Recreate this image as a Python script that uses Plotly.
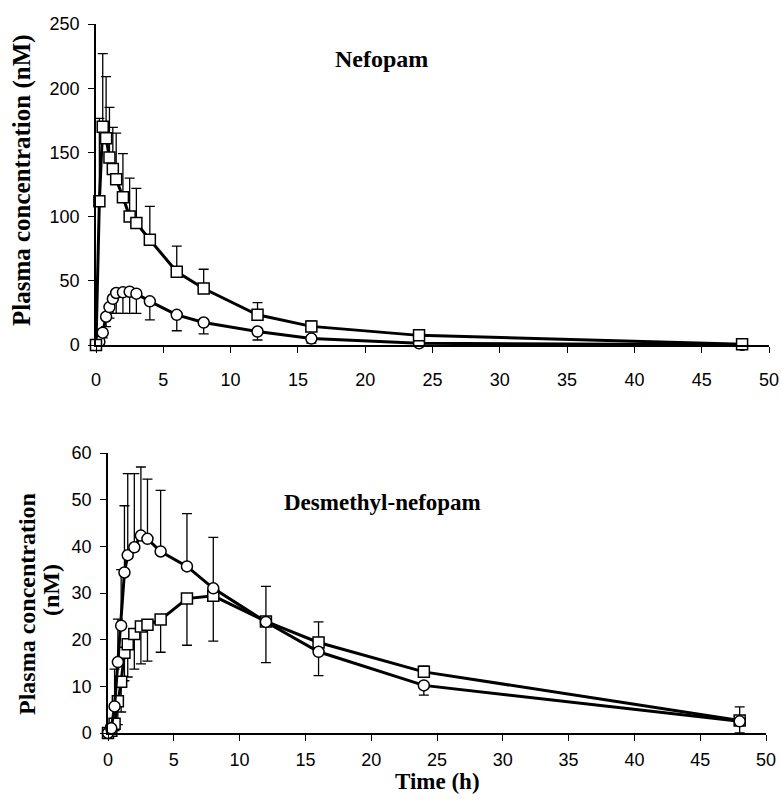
import plotly.graph_objects as go

W, H = 781, 801

times = [0, 0.25, 0.5, 0.75, 1, 1.25, 1.5, 2, 2.5, 3, 4, 6, 8, 12, 16, 24, 48]

# Nefopam (top panel)
nef_sq = [0, 112, 170, 161, 146, 137, 129, 115, 100, 95, 82, 57, 44, 23.5, 14.5, 7.5, 0.6]
nef_sq_up = [0, 64.5, 57, 48, 39, 32.5, 36, 34, 30, 27, 26, 20, 15, 9.5, 4.3, 2.7, 0.8]
nef_ci = [0, 2.6, 9.6, 22, 29.5, 36, 40.5, 41, 41.5, 40, 34, 23.5, 17.5, 10.5, 5, 1.3, 0.2]
nef_ci_dn = [0, 2, 4, 7.7, 8.5, 11.3, 15.8, 16.3, 16.8, 15.3, 14.5, 12.4, 8.9, 6.6, 3.5, 1, 0]

# Desmethyl-nefopam (bottom panel)
des_sq = [0, 0.5, 2, 6.8, 11, 17.2, 19, 21.2, 22.8, 23.2, 24.3, 28.8, 29.4, 23.9, 19.4, 13.1, 2.7]
des_sq_up = [0, 0, 0, 0, 0, 0, 0, 0, 0, 0, 0, 0, 0, 0, 4.4, 1.2, 2.9]
des_sq_dn = [0, 0.5, 1.5, 5, 6.5, 6, 7, 7.5, 8, 7.8, 7, 10, 9.7, 8.8, 0, 0, 2.7]
des_ci = [0, 1, 5.7, 15.2, 23, 34.4, 38.1, 39.8, 42.3, 41.6, 38.9, 35.7, 31, 23.8, 17.4, 10.2, 2.5]
des_ci_up = [0, 0, 8, 9.2, 12, 14.3, 17.5, 15.8, 14.7, 12.8, 13.1, 11.3, 10.9, 7.6, 0, 0, 0]
des_ci_dn = [0, 0, 0, 0, 0, 0, 0, 0, 0, 0, 0, 0, 0, 0, 5.1, 2.1, 0]

x_ticks = [0, 5, 10, 15, 20, 25, 30, 35, 40, 45, 50]
y1_ticks = [0, 50, 100, 150, 200, 250]
y2_ticks = [0, 10, 20, 30, 40, 50, 60]


def fx(px):
    return px / W


def fy(py):
    return 1 - py / H


LINE = dict(color="black", width=3)
ERR = dict(color="black", thickness=1.3, width=5)
SQ = dict(symbol="square", size=11, color="white", line=dict(color="black", width=1.5))
CI = dict(symbol="circle", size=11, color="white", line=dict(color="black", width=1.5))


def err(up, dn):
    return dict(type="data", symmetric=False, array=up, arrayminus=dn, visible=True, **ERR)


fig = go.Figure()
zeros = [0] * len(times)
fig.add_trace(go.Scatter(x=times, y=nef_ci, mode="lines+markers", line=LINE, marker=CI,
                         error_y=err(zeros, nef_ci_dn), xaxis="x", yaxis="y", cliponaxis=False))
fig.add_trace(go.Scatter(x=times, y=nef_sq, mode="lines+markers", line=LINE, marker=SQ,
                         error_y=err(nef_sq_up, zeros), xaxis="x", yaxis="y", cliponaxis=False))
fig.add_trace(go.Scatter(x=times, y=des_sq, mode="lines+markers", line=LINE, marker=SQ,
                         error_y=err(des_sq_up, des_sq_dn), xaxis="x2", yaxis="y2", cliponaxis=False))
fig.add_trace(go.Scatter(x=times, y=des_ci, mode="lines+markers", line=LINE, marker=CI,
                         error_y=err(des_ci_up, des_ci_dn), xaxis="x2", yaxis="y2", cliponaxis=False))

TICKF = dict(family="Liberation Sans, Arial, sans-serif", size=18, color="black")
ax_common = dict(showline=True, linecolor="black", linewidth=1.5, ticks="outside", ticklen=6,
                 tickcolor="black", tickwidth=1.2, showgrid=False, zeroline=False,
                 tickfont=TICKF, fixedrange=True, ticklabeloverflow="allow")

fig.update_layout(
    width=W, height=H, margin=dict(l=0, r=0, t=0, b=0, autoexpand=False),
    paper_bgcolor="white", plot_bgcolor="white", showlegend=False,
    xaxis=dict(domain=[fx(96), fx(769)], range=[0, 50], tickvals=x_ticks, anchor="y",
               ticklabelstandoff=12, **ax_common),
    yaxis=dict(domain=[fy(345), fy(24)], range=[0, 250], tickvals=y1_ticks, anchor="x",
               ticklabelstandoff=5, **ax_common),
    xaxis2=dict(domain=[fx(108), fx(766)], range=[0, 50], tickvals=x_ticks, anchor="y2",
                ticklabelstandoff=4, **ax_common),
    yaxis2=dict(domain=[fy(733), fy(453)], range=[0, 60], tickvals=y2_ticks, anchor="x2",
                ticklabelstandoff=5, **ax_common),
)

TF = dict(family="Liberation Serif, Times New Roman, serif", size=24, color="black")


def ann(text, px, py, angle=0, xanchor="center", size=24):
    f = dict(TF)
    f["size"] = size
    fig.add_annotation(text=text, x=fx(px), y=fy(py), xref="paper", yref="paper",
                       showarrow=False, textangle=angle, xanchor=xanchor, yanchor="middle", font=f)


ann("<b>Nefopam</b>", 381, 59)
ann("<b>Desmethyl-nefopam</b>", 282, 502, xanchor="left", size=23)
ann("<b>Plasma concentration (nM)</b>", 22, 180, angle=-90, size=25)
ann("<b>Plasma concentration</b>", 27, 604, angle=-90)
ann("<b>(nM)</b>", 51, 590, angle=-90)
ann("<b>Time (h)</b>", 437, 781, size=23)

fig.write_html(
    "out.html",
    config={"displayModeBar": False},
    post_script="document.body.style.margin='0';document.body.style.overflow='hidden';",
)
